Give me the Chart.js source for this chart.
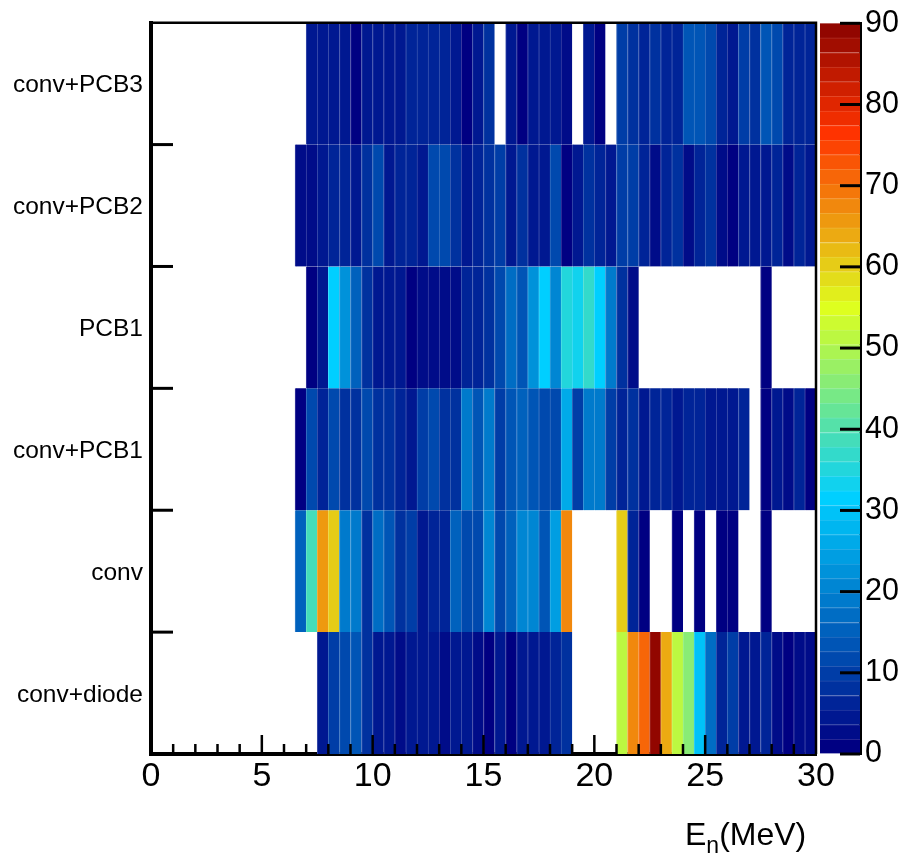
<!DOCTYPE html>
<html><head><meta charset="utf-8">
<script src="https://cdn.jsdelivr.net/npm/chart.js@4.4.0/dist/chart.umd.min.js"></script>
<style>
html,body{margin:0;padding:0;background:#fff;}
#wrap{position:relative;width:904px;height:857px;overflow:hidden;}
canvas{position:absolute;top:0;}
</style>
</head><body>
<div id="wrap">
<canvas id="main" width="904" height="857" style="left:0;width:904px;height:857px"></canvas>
<canvas id="cbar" width="104" height="857" style="left:800px;width:104px;height:857px"></canvas>
</div>
<script>
// ---------- DATA ----------
const categories = ['conv+PCB3', 'conv+PCB2', 'PCB1', 'conv+PCB1', 'conv', 'conv+diode'];
const binLowEdges = [6.5, 7.0, 7.5, 8.0, 8.5, 9.0, 9.5, 10.0, 10.5, 11.0, 11.5, 12.0, 12.5, 13.0, 13.5, 14.0,
  14.5, 15.0, 15.5, 16.0, 16.5, 17.0, 17.5, 18.0, 18.5, 19.0, 19.5, 20.0, 20.5, 21.0, 21.5, 22.0,
  22.5, 23.0, 23.5, 24.0, 24.5, 25.0, 25.5, 26.0, 26.5, 27.0, 27.5, 28.0, 28.5, 29.0, 29.5];
const binWidth = 0.5;

const convPCB3 = [null, 4, 5, 5, 5, 1, 4, 4, 4, 5, 7, 7, 7, 7, 5, 1, 4, 8, null, 4, 1, 4, 4, 4, 3, null, 4, 1, null,
  10, 8.5, 7, 8.5, 7, 6, 13, 13, 11, 6, 5, 10, 8.5, 13, 11, 7, 7, 6];
const convPCB2 = [3, 3, 5, 6, 7, 5, 8, 11, 5, 7, 6, 5, 11, 12, 8.5, 5, 7, 8, 10, 4, 8.5, 5, 5, 12, 1, 5, 8, 7, 5,
  10, 10, 7, 3, 7, 8, 3, 6, 8.5, 3, 1, 4, 4, 5, 6, 3, 7, 5];
const pcb1 = [null, 1, 5, 31, 22, 15, 8.5, 5, 5, 5, 1, 3, 3, 3, 3, 6, 7, 8, 11, 17, 13, 22, 31, 21, 35, 33, 37, 31, 18, 8, 3,
  null, null, null, null, null, null, null, null, null, null, null, 1, null, null, null, null];
const convPCB1 = [1, 12, 6, 12, 8.5, 8.5, 12, 8, 8.5, 7, 5, 10, 12, 8, 8, 18, 13, 18, 10, 14, 15, 14, 12, 11, 26, 10, 19, 18, 10,
  6, 8.5, 5, 6, 7, 5, 6, 6, 4, 5, 4, 6, null, 1, 4, 3, 7, 1];
const conv = [15, 38.5, 66, 60.3, 18, 18, 8.5, 17, 14, 8.5, 10, 5, 7, 7, 15, 11, 12, 21, 12, 16, 20, 20, 14, 24, 67.5,
  null, null, null, null, 60.3, 6, 1, null, null, 1, null, 1, null, 1, 1, null, null, 1, null, null, null, null];
const convDiode = [null, null, 4, 10, 12, 14, 8.5, 5, 5, 3, 4, 5, 4, 3, 5, 4, 3, 1, 4, 1, 5, 4, 4, 7, 8.5,
  null, null, null, null, 51.3, 67.5, 71.1, 89, 64, 51.3, 46, 29.7, 16.5, 6, 10, 4, 4, 7, 3, 1, 3, 3];
const rowValues = [convPCB3, convPCB2, pcb1, convPCB1, conv, convDiode];

const xTickValues = [0, 5, 10, 15, 20, 25, 30];
const zTickValues = [0, 10, 20, 30, 40, 50, 60, 70, 80, 90];
const zMin = 0, zMax = 90, nContours = 50;

// ---------- PALETTE (ROOT "pretty" rainbow, 50 colours) ----------
const pStops = [0.00, 0.34, 0.61, 0.84, 1.00];
const pRed   = [0.00, 0.00, 0.87, 1.00, 0.51];
const pGreen = [0.00, 0.81, 1.00, 0.20, 0.00];
const pBlue  = [0.51, 1.00, 0.12, 0.00, 0.00];
const palette = [];
for (let g = 1; g < pStops.length; g++) {
  const n = Math.floor(nContours * pStops[g]) - Math.floor(nContours * pStops[g - 1]);
  for (let c = 0; c < n; c++) {
    const f = c / n;
    palette.push([
      Math.round(255 * (pRed[g - 1] + f * (pRed[g] - pRed[g - 1]))),
      Math.round(255 * (pGreen[g - 1] + f * (pGreen[g] - pGreen[g - 1]))),
      Math.round(255 * (pBlue[g - 1] + f * (pBlue[g] - pBlue[g - 1])))
    ]);
  }
}
function levelOf(v) { return Math.max(0, Math.min(nContours - 1, Math.floor((v - zMin) * nContours / (zMax - zMin) + 0.01))); }
function rgb(c) { return 'rgb(' + c[0] + ',' + c[1] + ',' + c[2] + ')'; }
function colorFor(v) { return rgb(palette[levelOf(v)]); }
function edgeFor(v) { const c = palette[levelOf(v)]; return rgb(c.map(x => Math.round(x + (255 - x) * 0.22))); }

const FONT = "'Liberation Sans', Arial, Helvetica, sans-serif";

// ---------- MAIN HISTOGRAM ----------
const datasets = rowValues.map((vals, r) => {
  const pts = [], bg = [], bc = [];
  vals.forEach((v, i) => {
    if (v === null || v === undefined) return;
    pts.push({ y: categories[r], x: [binLowEdges[i], binLowEdges[i] + binWidth] });
    bg.push(colorFor(v));
    bc.push(edgeFor(v));
  });
  return {
    label: categories[r], data: pts, backgroundColor: bg, borderColor: bc,
    borderWidth: { left: 1, right: 0, top: 0, bottom: 0 }, borderSkipped: false,
    grouped: false, barPercentage: 1, categoryPercentage: 1
  };
});

const mainDeco = {
  id: 'mainDeco',
  afterDraw(chart) {
    const { ctx, chartArea: a, scales: { x, y } } = chart;
    ctx.save();
    ctx.strokeStyle = '#000';
    ctx.lineCap = 'butt';
    // x ticks (inside)
    ctx.lineWidth = 2.5;
    for (let t = 1; t < 30; t++) {
      const px = x.getPixelForValue(t);
      const len = (t % 5 === 0) ? 19 : 10;
      ctx.beginPath(); ctx.moveTo(px, a.bottom); ctx.lineTo(px, a.bottom - len); ctx.stroke();
    }
    // y ticks at category boundaries
    ctx.lineWidth = 3;
    for (let i = 0; i < categories.length - 1; i++) {
      const py = (y.getPixelForValue(i) + y.getPixelForValue(i + 1)) / 2;
      ctx.beginPath(); ctx.moveTo(a.left, py); ctx.lineTo(a.left + 22, py); ctx.stroke();
    }
    // top & right frame
    ctx.lineWidth = 2.5;
    ctx.beginPath(); ctx.moveTo(a.left, a.top); ctx.lineTo(a.right, a.top); ctx.lineTo(a.right, a.bottom); ctx.stroke();
    // x title  E_n(MeV)
    ctx.fillStyle = '#000';
    ctx.textBaseline = 'alphabetic';
    ctx.textAlign = 'left';
    let tx = 685; const ty = 845;
    ctx.font = '32px ' + FONT;
    ctx.fillText('E', tx, ty); tx += ctx.measureText('E').width;
    ctx.font = '23px ' + FONT;
    ctx.fillText('n', tx, ty + 8); tx += ctx.measureText('n').width;
    ctx.font = '32px ' + FONT;
    ctx.fillText('(MeV)', tx, ty);
    ctx.restore();
  }
};

new Chart(document.getElementById('main'), {
  type: 'bar',
  data: { labels: categories, datasets },
  options: {
    indexAxis: 'y', responsive: false, animation: false, devicePixelRatio: 1,
    layout: { padding: { top: 20, right: 88, bottom: 0, left: 0 } },
    plugins: { legend: { display: false }, tooltip: { enabled: false } },
    scales: {
      x: {
        type: 'linear', min: 0, max: 30,
        afterBuildTicks: s => { s.ticks = xTickValues.map(v => ({ value: v })); },
        afterFit: s => { s.height = 103; },
        grid: { display: true, drawOnChartArea: false, drawTicks: false },
        border: { display: true, color: '#000', width: 4 },
        ticks: { color: '#000', font: { family: FONT, size: 34 }, padding: 2, maxRotation: 0, autoSkip: false }
      },
      y: {
        type: 'category',
        afterFit: s => { s.width = 151; },
        grid: { display: true, drawOnChartArea: false, drawTicks: false },
        border: { display: true, color: '#000', width: 4 },
        ticks: { color: '#000', font: { family: FONT, size: 24.5 }, padding: 8, labelOffset: 2 }
      }
    }
  },
  plugins: [mainDeco]
});

// ---------- COLOUR BAR ----------
const cbDatasets = palette.map((c, i) => ({
  data: [{ x: 'z', y: [zMin + i * (zMax - zMin) / nContours, zMin + (i + 1) * (zMax - zMin) / nContours] }],
  backgroundColor: rgb(c), borderColor: rgb(c.map(x => Math.round(x + (255 - x) * 0.15))),
  borderWidth: { top: 1, bottom: 0, left: 0, right: 0 }, borderSkipped: false,
  grouped: false, barPercentage: 1, categoryPercentage: 1
}));

const cbDeco = {
  id: 'cbDeco',
  afterDraw(chart) {
    const { ctx, chartArea: a, scales: { y } } = chart;
    ctx.save();
    ctx.strokeStyle = '#000'; ctx.lineWidth = 3;
    zTickValues.forEach(v => {
      const py = y.getPixelForValue(v);
      ctx.beginPath(); ctx.moveTo(a.right, py); ctx.lineTo(a.right - 20, py); ctx.stroke();
    });
    ctx.restore();
  }
};

new Chart(document.getElementById('cbar'), {
  type: 'bar',
  data: { labels: ['z'], datasets: cbDatasets },
  options: {
    responsive: false, animation: false, devicePixelRatio: 1,
    layout: { padding: { top: 20, right: 0, bottom: 103, left: 20 } },
    plugins: { legend: { display: false }, tooltip: { enabled: false } },
    scales: {
      x: { display: false },
      y: {
        type: 'linear', position: 'right', min: zMin, max: zMax,
        afterBuildTicks: s => { s.ticks = zTickValues.map(v => ({ value: v })); },
        afterFit: s => { s.width = 44; },
        grid: { display: true, drawOnChartArea: false, drawTicks: false },
        border: { display: true, color: '#000', width: 3 },
        ticks: { color: '#000', font: { family: FONT, size: 30.5 }, padding: 5 }
      }
    }
  },
  plugins: [cbDeco]
});
</script>
</body></html>
